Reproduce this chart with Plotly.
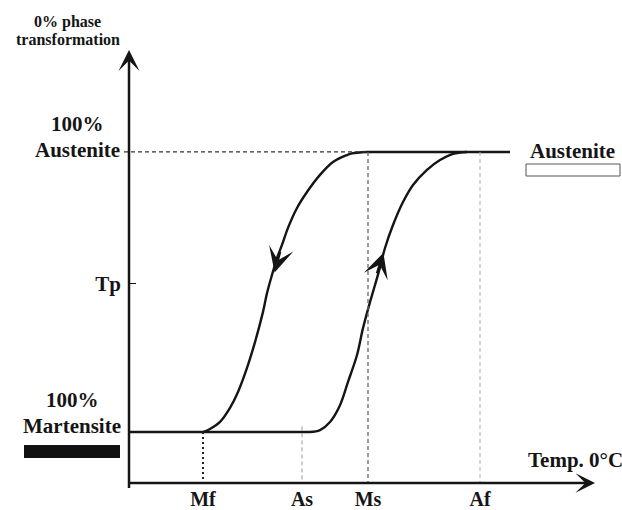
import plotly.graph_objects as go

# ---- data ----
# temperature axis markers
temp_labels = ["Mf", "As", "Ms", "Af"]
temp_values = [18.5, 43.25, 59.75, 87.75]
# phase axis marker
phase_labels = ["Tp"]
phase_values = [53]

# cooling branch (austenite -> martensite): temperature vs % austenite
cool_T = [59.5, 55.75, 54.5, 51.0, 47.75, 44.5, 42.0, 39.75, 38.25, 37.0, 35.75, 34.5,
          33.5, 31.5, 29.5, 27.25, 25.25, 22.75, 20.25, 18.5]
cool_F = [100, 99.5, 98.9, 96.4, 91.8, 85.7, 80.0, 72.9, 66.8, 62.1, 56.1, 49.6,
          42.9, 32.1, 22.9, 14.3, 8.6, 3.6, 1.1, 0]
# heating branch (martensite -> austenite)
heat_T = [45.25, 47.75, 50.25, 52.75, 54.75, 57.0, 58.5, 60.25, 61.5, 62.6, 64.0, 66.0,
          68.5, 71.0, 74.5, 77.75, 81.0, 84.5]
heat_F = [0, 0.7, 3.6, 9.6, 17.9, 27.5, 37.1, 46.4, 52.5, 58.0, 65.7, 73.9,
          82.1, 88.2, 93.6, 97.1, 99.3, 100]
# flat plateaus
mart_T = [0, 45.25]
mart_F = [0, 0]
aus_T = [59.5, 95.25]
aus_F = [100, 100]

# ---- layout geometry (reference pixel frame) ----
W, H = 622, 510
PLOT_L, PLOT_R, PLOT_T, PLOT_B = 129, 595, 50, 483
ML, MR, MT, MB = PLOT_L, W - PLOT_R, PLOT_T, H - PLOT_B
PW, PH = PLOT_R - PLOT_L, PLOT_B - PLOT_T
XR = [0, PW / 4.0]
YR = [-18.2, 136.4]
FONT = "Liberation Serif"
INK = "#151515"


def px(x):
    return (x - PLOT_L) / PW


def py(y):
    return (PLOT_B - y) / PH


def xval_to_paper(v):
    return (v - XR[0]) / (XR[1] - XR[0])


fig = go.Figure()
for xs, ys in [(mart_T, mart_F), (heat_T, heat_F), (aus_T, aus_F), (cool_T, cool_F)]:
    fig.add_trace(go.Scatter(x=xs, y=ys, mode="lines",
                             line=dict(shape="spline", smoothing=1.0, color=INK, width=2.4),
                             hoverinfo="skip", showlegend=False))

shapes = []
# horizontal guide at 100% austenite
shapes.append(dict(type="line", xref="paper", yref="y", x0=px(124), x1=xval_to_paper(temp_values[2]),
                   y0=100, y1=100, line=dict(color="#333", width=1.2, dash="4px,3px")))
guide = {"Mf": (0, dict(color="#222", width=2, dash="2px,3px")),
         "As": (2, dict(color="#999", width=1, dash="4px,3px")),
         "Ms": (100, dict(color="#666", width=1.3, dash="4px,3px")),
         "Af": (100, dict(color="#aaa", width=1, dash="4px,3px"))}
for lab, val in zip(temp_labels, temp_values):
    top, st = guide[lab]
    shapes.append(dict(type="line", xref="x", yref="y", x0=val, x1=val, y0=top, y1=YR[0], line=st))
# legend boxes
shapes.append(dict(type="rect", xref="paper", yref="paper", x0=px(24), x1=px(120), y0=py(458), y1=py(445),
                   fillcolor="#111", line=dict(width=0)))
shapes.append(dict(type="rect", xref="paper", yref="paper", x0=px(526), x1=px(620), y0=py(176), y1=py(164),
                   fillcolor="white", line=dict(color="#555", width=1)))

ann = []
# axes with arrow heads
ann.append(dict(x=0, y=YR[1], ax=0, ay=-20.5, xref="x", yref="y", axref="x", ayref="y", text="",
                showarrow=True, arrowhead=3, arrowwidth=2.5, arrowsize=1.4, arrowcolor=INK, standoff=0))
ann.append(dict(x=XR[1], y=YR[0], ax=-0.3, ay=YR[0], xref="x", yref="y", axref="x", ayref="y", text="",
                showarrow=True, arrowhead=3, arrowwidth=2.5, arrowsize=1.3, arrowcolor=INK, standoff=0))
# direction arrows on curves
ann.append(dict(x=36.4, y=57.0, ax=6, ay=-22, xref="x", yref="y", text="", showarrow=True,
                arrowhead=3, arrowwidth=2.2, arrowsize=1.9, arrowcolor=INK, standoff=0))
ann.append(dict(x=63.6, y=64.0, ax=-7, ay=22, xref="x", yref="y", text="", showarrow=True,
                arrowhead=3, arrowwidth=2.2, arrowsize=1.9, arrowcolor=INK, standoff=0))


def label(text, x, y, size=21):
    ann.append(dict(text=text, x=px(x), y=py(y), xref="paper", yref="paper", showarrow=False,
                    xanchor="center", yanchor="middle",
                    font=dict(family=FONT, size=size, color=INK, weight="bold")))


label("0% phase", 67, 22, 16)
label("transformation", 68, 39, 16)
label("100%", 77, 124)
label("Austenite", 77, 150)
label("100%", 72, 400)
label("Martensite", 72, 426)
label("Austenite", 572, 151)
label("Temp. 0°C", 575, 460)

fig.update_layout(
    width=W, height=H,
    margin=dict(l=ML, r=MR, t=MT, b=MB, autoexpand=False),
    paper_bgcolor="white", plot_bgcolor="white",
    shapes=shapes, annotations=ann,
    xaxis=dict(range=XR, showgrid=False, zeroline=False, showline=False, automargin=False,
               tickmode="array", tickvals=temp_values, ticktext=temp_labels, ticks="",
               tickfont=dict(family=FONT, size=20, color=INK, weight="bold"), ticklabelstandoff=2),
    yaxis=dict(range=YR, showgrid=False, zeroline=False, showline=False, automargin=False,
               tickmode="array", tickvals=phase_values, ticktext=phase_labels, ticks="inside",
               ticklen=7, tickwidth=1.5, tickcolor=INK,
               tickfont=dict(family=FONT, size=21, color=INK, weight="bold"), ticklabelstandoff=7),
)

# remove the default page margin so the 622x510 figure fills the window exactly
fig.write_html("out.html", config={"displayModeBar": False, "staticPlot": True},
               post_script="document.body.style.margin='0';document.body.style.overflow='hidden';")
